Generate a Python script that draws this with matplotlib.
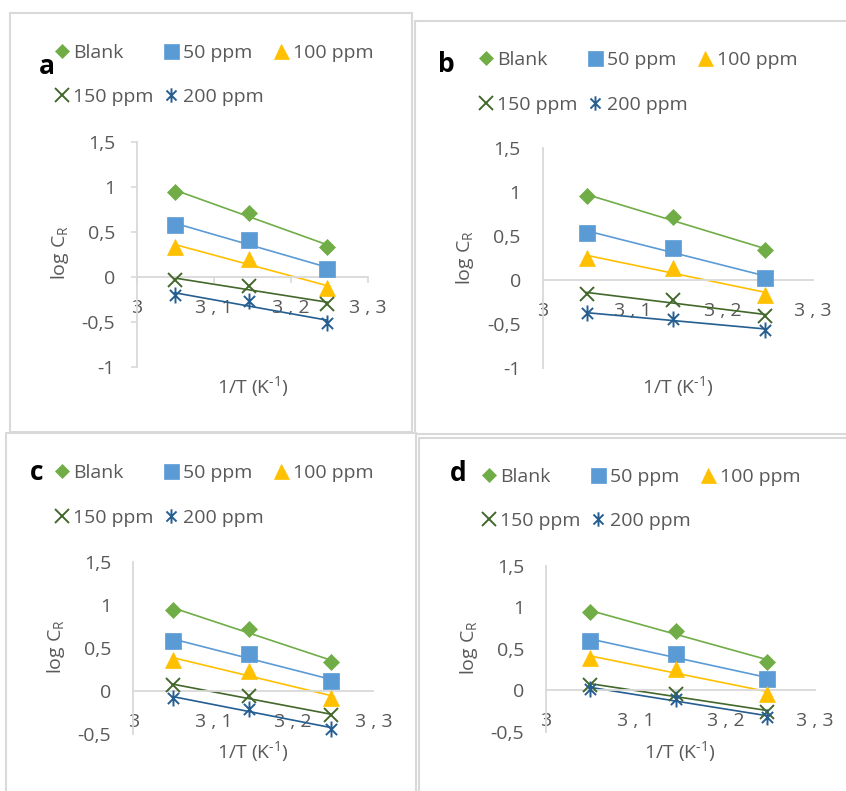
import numpy as np
import matplotlib
matplotlib.use('Agg')
import matplotlib.pyplot as plt
from matplotlib.path import Path
from matplotlib.patches import Rectangle

plt.rcParams['font.family'] = ['Open Sans', 'DejaVu Sans']
plt.rcParams['mathtext.default'] = 'regular'

# 1/T (x10^3) for 328, 318 and 308 K
inv_T = [3.049, 3.145, 3.247]

series_names = ['Blank', '50 ppm', '100 ppm', '150 ppm', '200 ppm']

# panel a
blank_a = [0.944, 0.715, 0.337]
ppm50_a = [0.574, 0.407, 0.085]
ppm100_a = [0.33, 0.20, -0.126]
ppm150_a = [-0.033, -0.10, -0.30]
ppm200_a = [-0.204, -0.267, -0.507]

# panel b
blank_b = [0.954, 0.712, 0.338]
ppm50_b = [0.531, 0.365, 0.019]
ppm100_b = [0.25, 0.135, -0.17]
ppm150_b = [-0.16, -0.23, -0.41]
ppm200_b = [-0.38, -0.45, -0.565]

# panel c
blank_c = [0.946, 0.717, 0.337]
ppm50_c = [0.581, 0.426, 0.112]
ppm100_c = [0.36, 0.23, -0.08]
ppm150_c = [0.066, -0.062, -0.283]
ppm200_c = [-0.078, -0.213, -0.438]

# panel d
blank_d = [0.941, 0.719, 0.347]
ppm50_d = [0.598, 0.436, 0.133]
ppm100_d = [0.39, 0.255, -0.04]
ppm150_d = [0.065, -0.048, -0.259]
ppm200_d = [0.02, -0.10, -0.323]

x_ticks = [3, 3.1, 3.2, 3.3]
x_tick_labels = ['3', '3 , 1', '3 , 2', '3 , 3']
y_ticks_ab = [-1, -0.5, 0, 0.5, 1, 1.5]
y_ticks_cd = [-0.5, 0, 0.5, 1, 1.5]

GREEN = '#70AD47'
BLUE = '#5B9BD5'
GOLD = '#FFC000'
DKGREEN = '#43682B'
DKBLUE = '#255E91'
TXT = '#595959'
AXC = '#D9D9D9'

# excel "star" marker: an x with a vertical bar
star = Path([(-0.7, -0.7), (0.7, 0.7), (-0.7, 0.7), (0.7, -0.7), (0, -1), (0, 1)],
            [Path.MOVETO, Path.LINETO, Path.MOVETO, Path.LINETO, Path.MOVETO, Path.LINETO])

styles = [
    dict(marker='D', ms=7.8, color=GREEN, mec=GREEN, mew=0.5),
    dict(marker='s', ms=12, color=BLUE, mec=BLUE, mew=0.5),
    dict(marker='^', ms=12, color=GOLD, mec=GOLD, mew=0.5),
    dict(marker='x', ms=10.5, color=DKGREEN, mew=1.4),
    dict(marker=star, ms=11.5, color=DKBLUE, mew=1.4),
]

W, H = 846, 791
fig = plt.figure(figsize=(W / 100, H / 100), dpi=100)


def fx(px):
    return px / W


def fy(py):
    return 1 - py / H


def fmt(v):
    return ('%g' % v).replace('.', ',')


panels = [
    dict(letter='a', data=[blank_a, ppm50_a, ppm100_a, ppm150_a, ppm200_a],
         box=(10, 13, 412, 432), axes=(137, 142, 368, 367), yt=y_ticks_ab, ticks=True,
         letter_xy=(47, 67), legend_xy=(54, 75), ylabel_xy=(60, 253), xlabel_xy=(253, 387)),
    dict(letter='b', data=[blank_b, ppm50_b, ppm100_b, ppm150_b, ppm200_b],
         box=(415, 21, 860, 434), axes=(542.7, 148.3, 813, 367.7), yt=y_ticks_ab, ticks=False,
         letter_xy=(446, 65), legend_xy=(478, 82.5), ylabel_xy=(465, 258), xlabel_xy=(678, 387)),
    dict(letter='c', data=[blank_c, ppm50_c, ppm100_c, ppm150_c, ppm200_c],
         box=(6, 433, 416, 800), axes=(133.3, 562, 373.3, 734), yt=y_ticks_cd, ticks=False,
         letter_xy=(37, 473), legend_xy=(54, 495.5), ylabel_xy=(56, 647), xlabel_xy=(253, 752)),
    dict(letter='d', data=[blank_d, ppm50_d, ppm100_d, ppm150_d, ppm200_d],
         box=(419, 438, 860, 800), axes=(546, 566, 815, 731.7), yt=y_ticks_cd, ticks=False,
         letter_xy=(458, 474), legend_xy=(481, 499), ylabel_xy=(469, 648), xlabel_xy=(680, 752)),
]

for p in panels:
    x0, y0, x1, y1 = p['box']
    fig.add_artist(Rectangle((fx(x0), fy(y1)), fx(x1 - x0), (y1 - y0) / H,
                             transform=fig.transFigure, fill=False, ec=AXC, lw=1.5))

    l, t, r, b = p['axes']
    ax = fig.add_axes([fx(l), fy(b), fx(r - l), (b - t) / H])
    ax.set_xlim(3, 3.3)
    ax.set_ylim(p['yt'][0], p['yt'][-1])

    handles = []
    for vals, st, name in zip(p['data'], styles, series_names):
        coef = np.polyfit(inv_T, vals, 1)
        xs = np.array([inv_T[0], inv_T[-1]])
        ax.plot(xs, np.polyval(coef, xs), color=st['color'], lw=1.2, zorder=2)
        h, = ax.plot(inv_T, vals, linestyle='none', zorder=3, clip_on=False, label=name, **st)
        handles.append(h)

    for side in ['top', 'right']:
        ax.spines[side].set_visible(False)
    ax.spines['bottom'].set_position(('data', 0))
    for side in ['left', 'bottom']:
        ax.spines[side].set_color(AXC)
        ax.spines[side].set_linewidth(1.3)
    ax.patch.set_visible(False)

    ax.set_xticks(x_ticks)
    ax.set_xticklabels(x_tick_labels)
    ax.set_yticks(p['yt'])
    ax.set_yticklabels([fmt(v) for v in p['yt']])
    if p['ticks']:
        ax.tick_params(axis='both', length=4.3, width=1.2, color=AXC, labelsize=14, labelcolor=TXT)
        ax.tick_params(axis='x', pad=11.7)
        ax.tick_params(axis='y', pad=11.5)
    else:
        ax.tick_params(axis='both', length=0, labelsize=14, labelcolor=TXT)
        ax.tick_params(axis='x', pad=16)
        ax.tick_params(axis='y', pad=15.8)

    ax.set_ylabel('log C$_R$', fontsize=14, color=TXT)
    ax.yaxis.set_label_coords(fx(p['ylabel_xy'][0]), fy(p['ylabel_xy'][1]), transform=fig.transFigure)
    ax.set_xlabel('1/T (K$^{\u2010' + '1}$)', fontsize=14, color=TXT)
    ax.xaxis.set_label_coords(fx(p['xlabel_xy'][0]), fy(p['xlabel_xy'][1]), transform=fig.transFigure)
    ax.xaxis.label.set_va('center')
    ax.yaxis.label.set_va('center')

    # excel fills the legend row by row
    order = [0, 3, 1, 4, 2]
    leg = ax.legend([handles[i] for i in order], [series_names[i] for i in order],
                    ncol=3, loc='center left',
                    bbox_to_anchor=(fx(p['legend_xy'][0]), fy(p['legend_xy'][1])),
                    bbox_transform=fig.transFigure, frameon=False, fontsize=14,
                    borderpad=0, borderaxespad=0, handlelength=0.8, handletextpad=0.2,
                    columnspacing=0.5, labelspacing=1.36, markerscale=0.9)
    for txt in leg.get_texts():
        txt.set_color(TXT)

    fig.text(fx(p['letter_xy'][0]), fy(p['letter_xy'][1]), p['letter'], fontsize=19,
             fontweight='bold', ha='center', va='center', color='black')

fig.savefig('out.png', dpi=100)
